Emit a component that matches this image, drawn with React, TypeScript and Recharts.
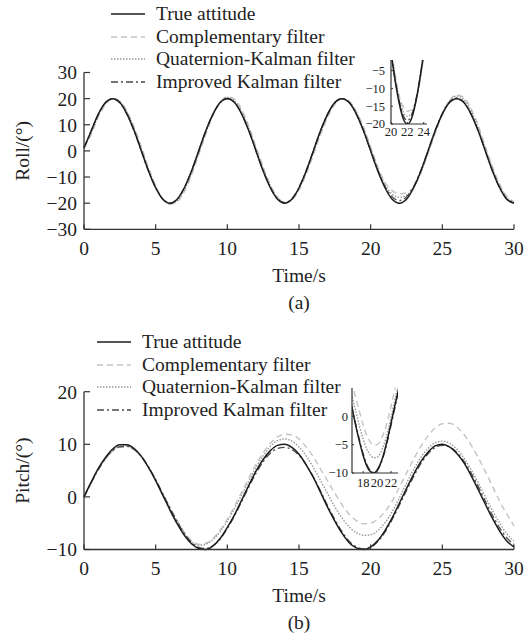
import { LineChart, Line, XAxis, YAxis, Legend } from 'recharts'

const FONT = '"Liberation Serif", "Times New Roman", serif'
const INK = '#222'
const AXIS = '#333'

// time samples (s)
const TIME = [
  0, 0.5, 1, 1.5, 2, 2.5, 3, 3.5, 4, 4.5, 5, 5.5, 6, 6.5, 7, 7.5, 8, 8.5, 9, 9.5,
  10, 10.5, 11, 11.5, 12, 12.5, 13, 13.5, 14, 14.5, 15, 15.5, 16, 16.5, 17, 17.5, 18, 18.5, 19, 19.5,
  20, 20.5, 21, 21.5, 22, 22.5, 23, 23.5, 24, 24.5, 25, 25.5, 26, 26.5, 27, 27.5, 28, 28.5, 29, 29.5, 30,
]

// roll (deg)
const ROLL_TRUE = [
  1.0, 7.7, 14.1, 18.5, 20.0, 18.5, 14.1, 7.7, 0.0,
  -7.7, -14.1, -18.5, -20.0, -18.5, -14.1, -7.7, 0.0,
  7.7, 14.1, 18.5, 20.0, 18.5, 14.1, 7.7, 0.0,
  -7.7, -14.1, -18.5, -20.0, -18.5, -14.1, -7.7, 0.0,
  7.7, 14.1, 18.5, 20.0, 18.5, 14.1, 7.7, 0.0,
  -7.7, -14.1, -18.5, -20.0, -18.5, -14.1, -7.7, 0.0,
  7.7, 14.1, 18.5, 20.0, 18.5, 14.1, 7.7, 0.0,
  -7.7, -14.1, -18.5, -20.0,
]
const ROLL_COMP = [
  1.5, 6.2, 13.0, 17.8, 19.9, 19.0, 15.2, 9.1, 1.6,
  -6.3, -13.3, -18.3, -20.4, -19.5, -15.6, -9.3, -1.6,
  6.4, 13.5, 18.5, 20.7, 19.8, 15.8, 9.4, 1.6,
  -6.1, -12.9, -17.6, -19.7, -18.8, -15.0, -9.0, -1.5,
  6.2, 13.0, 17.8, 19.9, 19.0, 15.2, 9.1, 1.6,
  -6.0, -12.0, -15.2, -16.4, -16.0, -13.8, -8.4, -1.0,
  6.6, 14.0, 19.2, 21.4, 20.4, 16.3, 9.8, 1.7,
  -6.0, -12.7, -17.4, -19.4,
]
const ROLL_QUAT = [
  1.4, 6.9, 13.6, 18.2, 20.0, 18.8, 14.7, 8.4, 0.8,
  -7.0, -13.8, -18.4, -20.3, -19.0, -14.9, -8.5, -0.8,
  7.1, 13.9, 18.6, 20.5, 19.2, 15.0, 8.6, 0.8,
  -6.9, -13.4, -18.0, -19.8, -18.6, -14.5, -8.3, -0.8,
  6.9, 13.6, 18.2, 20.0, 18.8, 14.7, 8.4, 0.8,
  -6.7, -12.9, -16.6, -17.8, -17.0, -13.9, -8.3, -0.8,
  7.3, 14.3, 19.1, 21.0, 19.7, 15.4, 8.8, 0.8,
  -6.8, -13.3, -17.8, -19.6,
]
const ROLL_IMP = [
  1.3, 7.6, 14.0, 18.4, 19.9, 18.4, 14.0, 7.6, 0.0,
  -7.7, -14.1, -18.5, -20.0, -18.5, -14.1, -7.7, 0.0,
  7.7, 14.1, 18.5, 20.1, 18.6, 14.2, 7.7, 0.0,
  -7.6, -14.0, -18.3, -19.8, -18.3, -14.0, -7.6, 0.0,
  7.7, 14.1, 18.5, 20.0, 18.5, 14.1, 7.7, 0.0,
  -7.5, -13.6, -17.6, -19.0, -17.6, -13.6, -7.5, 0.0,
  7.8, 14.3, 18.7, 20.3, 18.7, 14.3, 7.8, 0.0,
  -7.7, -14.1, -18.5, -19.9,
]

// pitch (deg)
const PITCH_TRUE = [
  0.0, 2.8, 5.4, 7.5, 9.1, 9.9, 9.9, 9.2, 7.7, 5.6, 3.1,
  0.3, -2.5, -5.1, -7.3, -8.9, -9.8, -10.0, -9.3, -7.9, -5.8,
  -3.4, -0.6, 2.2, 4.9, 7.1, 8.8, 9.8, 10.0, 9.4, 8.1,
  6.1, 3.7, 0.9, -2.0, -4.6, -6.9, -8.7, -9.7, -10.0, -9.5,
  -8.3, -6.4, -4.0, -1.2, 1.6, 4.3, 6.7, 8.5, 9.7, 10.0,
  9.5, 8.3, 6.5, 4.1, 1.4, -1.4, -4.1, -6.5, -8.4, -9.5,
]
const PITCH_COMP = [
  0.0, 2.7, 5.2, 7.2, 8.7, 9.5, 9.6, 9.0, 7.6, 5.6, 3.2,
  0.6, -2.0, -4.5, -6.7, -8.3, -9.0, -8.8, -7.9, -6.3, -4.2,
  -1.8, 0.9, 3.6, 6.2, 8.4, 10.2, 11.4, 11.9, 11.8, 11.0,
  9.5, 7.6, 5.3, 3.0, 0.7, -1.5, -3.3, -4.5, -5.1, -5.0,
  -4.2, -2.8, -0.8, 1.8, 4.5, 7.2, 9.6, 11.6, 13.1, 13.9,
  14.0, 13.3, 11.9, 9.9, 7.5, 4.8, 2.0, -0.8, -3.3, -5.5,
]
const PITCH_QUAT = [
  0.0, 2.7, 5.3, 7.4, 8.9, 9.6, 9.7, 9.1, 7.7, 5.6, 3.2,
  0.5, -2.2, -4.7, -6.9, -8.5, -9.2, -9.0, -8.1, -6.6, -4.6,
  -2.2, 0.4, 3.0, 5.6, 7.8, 9.6, 10.7, 11.0, 10.6, 9.5,
  7.8, 5.6, 3.1, 0.6, -1.9, -4.0, -5.7, -6.8, -7.3, -7.2,
  -6.4, -4.9, -2.8, -0.2, 2.6, 5.2, 7.5, 9.2, 10.3, 10.6,
  10.2, 9.1, 7.4, 5.2, 2.7, 0.0, -2.6, -5.0, -7.0, -8.4,
]
const PITCH_IMP = [
  0.0, 2.7, 5.2, 7.3, 8.8, 9.5, 9.6, 9.0, 7.7, 5.7, 3.3,
  0.6, -2.1, -4.7, -7.0, -8.7, -9.6, -9.8, -9.3, -8.0, -6.0,
  -3.6, -0.9, 1.9, 4.5, 6.7, 8.3, 9.2, 9.4, 9.0, 7.9,
  6.1, 3.8, 1.1, -1.7, -4.3, -6.6, -8.4, -9.5, -9.9, -9.6,
  -8.5, -6.7, -4.3, -1.6, 1.2, 3.9, 6.3, 8.2, 9.4, 9.8,
  9.5, 8.5, 6.8, 4.6, 2.0, -0.8, -3.5, -5.9, -7.8, -9.0,
]

const X_TICKS = [0, 5, 10, 15, 20, 25, 30]
const ROLL_TICKS = [-30, -20, -10, 0, 10, 20, 30]
const PITCH_TICKS = [-10, 0, 10, 20]
const ROLL_INSET_X = [20, 22, 24]
const ROLL_INSET_Y = [-20, -15, -10, -5]
const PITCH_INSET_X = [18, 20, 22]
const PITCH_INSET_Y = [-10, -5, 0]

// legend order
const SERIES = [
  { key: 'truth', name: 'True attitude', color: '#1c1c1c', dash: undefined, width: 1.5 },
  { key: 'comp', name: 'Complementary filter', color: '#c4c4c4', dash: '6 4', width: 1.4 },
  { key: 'quat', name: 'Quaternion-Kalman filter', color: '#999999', dash: '1.5 1.5', width: 1.4 },
  { key: 'imp', name: 'Improved Kalman filter', color: '#4a4a4a', dash: '7 3 2 3', width: 1.3 },
]
// draw order: light curves below, true attitude on top
const DRAW = ['comp', 'quat', 'imp', 'truth'].map((k) => SERIES.find((s) => s.key === k)!)

const rollData = TIME.map((t, i) => ({
  t, truth: ROLL_TRUE[i], comp: ROLL_COMP[i], quat: ROLL_QUAT[i], imp: ROLL_IMP[i],
}))
const pitchData = TIME.map((t, i) => ({
  t, truth: PITCH_TRUE[i], comp: PITCH_COMP[i], quat: PITCH_QUAT[i], imp: PITCH_IMP[i],
}))

function fmt(v: number) {
  return v < 0 ? `\u2212${Math.abs(v)}` : `${v}`
}

function LegendBox() {
  return (
    <div style={{ fontFamily: FONT, fontSize: 19.5, color: INK }}>
      {SERIES.map((s) => (
        <div key={s.key} style={{ display: 'flex', alignItems: 'center', height: 22.6, whiteSpace: 'nowrap' }}>
          <svg width={34} height={10} style={{ marginRight: 11, flex: 'none' }}>
            <line x1={0} x2={34} y1={5} y2={5} stroke={s.color} strokeWidth={s.width} strokeDasharray={s.dash} />
          </svg>
          <span>{s.name}</span>
        </div>
      ))}
    </div>
  )
}

// eslint-disable-next-line @typescript-eslint/no-explicit-any
function XTitle({ viewBox, tag }: any) {
  const cx = viewBox.x + viewBox.width / 2
  return (
    <g fontFamily={FONT} fontSize={19.5} fill={INK}>
      <text x={cx} y={viewBox.y + 46} textAnchor="middle" dominantBaseline="central">Time/s</text>
      <text x={cx} y={viewBox.y + 73} textAnchor="middle" dominantBaseline="central">{tag}</text>
    </g>
  )
}

// eslint-disable-next-line @typescript-eslint/no-explicit-any
function YTitle({ viewBox, text }: any) {
  const cx = viewBox.x + viewBox.width - 61
  const cy = viewBox.y + viewBox.height / 2
  return (
    <text x={cx} y={cy} transform={`rotate(-90 ${cx} ${cy})`} textAnchor="middle" dominantBaseline="central"
      fontFamily={FONT} fontSize={19.5} fill={INK}>
      {text}
    </text>
  )
}

type PanelProps = {
  data: typeof rollData
  height: number
  plotTop: number
  plotBottom: number
  yDomain: [number, number]
  yTicks: number[]
  yTitle: string
  tag: string
  legendLeft: number
  legendTop: number
}

function Panel({ data, height, plotTop, plotBottom, yDomain, yTicks, yTitle, tag, legendLeft, legendTop }: PanelProps) {
  return (
    <LineChart width={532} height={height} data={data}
      margin={{ top: plotTop, right: 18, bottom: height - plotBottom - 60, left: 24 }}>
      <XAxis dataKey="t" type="number" domain={[0, 30]} ticks={X_TICKS} interval={0} tickFormatter={fmt} height={60}
        axisLine={{ stroke: AXIS, strokeWidth: 1.3 }} tickLine={{ stroke: AXIS, strokeWidth: 1.2 }}
        tickSize={-5} tickMargin={17} tick={{ fill: INK, fontSize: 19.5, fontFamily: FONT }}
        label={<XTitle tag={tag} />} />
      <YAxis type="number" domain={yDomain} ticks={yTicks} interval={0} tickFormatter={fmt} width={60}
        axisLine={{ stroke: AXIS, strokeWidth: 1.3 }} tickLine={{ stroke: AXIS, strokeWidth: 1.2 }}
        tickSize={-6} tickMargin={13} tick={{ fill: INK, fontSize: 19.5, fontFamily: FONT }}
        label={<YTitle text={yTitle} />} />
      <Legend layout="horizontal" verticalAlign="middle" align="center" content={() => <LegendBox />}
        wrapperStyle={{ left: legendLeft, top: legendTop, width: 330, height: 92 }} />
      {DRAW.map((s) => (
        <Line key={s.key} type="monotone" dataKey={s.key} name={s.name} stroke={s.color}
          strokeWidth={s.width} strokeDasharray={s.dash} dot={false} activeDot={false}
          isAnimationActive={false} />
      ))}
    </LineChart>
  )
}

type InsetProps = {
  data: typeof rollData
  width: number
  height: number
  margin: { top: number; right: number; bottom: number; left: number }
  xDomain: [number, number]
  xTicks: number[]
  yDomain: [number, number]
  yTicks: number[]
  xTickMargin: number
  yTickMargin: number
}

function Inset({ data, width, height, margin, xDomain, xTicks, yDomain, yTicks, xTickMargin, yTickMargin }: InsetProps) {
  return (
    <LineChart width={width} height={height} data={data} margin={margin}>
      <XAxis dataKey="t" type="number" domain={xDomain} ticks={xTicks} interval={0} allowDataOverflow height={20}
        axisLine={{ stroke: AXIS, strokeWidth: 1.2 }} tickLine={{ stroke: AXIS }} tickSize={-2}
        tickMargin={xTickMargin} tick={{ fill: INK, fontSize: 12.5, fontFamily: FONT }} />
      <YAxis type="number" domain={yDomain} ticks={yTicks} interval={0} allowDataOverflow width={50} tickFormatter={fmt}
        axisLine={{ stroke: AXIS, strokeWidth: 1.2 }} tickLine={{ stroke: AXIS }} tickSize={-2}
        tickMargin={yTickMargin} tick={{ fill: INK, fontSize: 12.5, fontFamily: FONT }} />
      {DRAW.map((s) => (
        <Line key={s.key} type="monotone" dataKey={s.key} stroke={s.color}
          strokeWidth={s.width} strokeDasharray={s.dash} dot={false} activeDot={false}
          isAnimationActive={false} />
      ))}
    </LineChart>
  )
}

export default function App() {
  return (
    <div style={{ position: 'absolute', left: 0, top: 0, width: 532, height: 633, background: '#fff', overflow: 'hidden' }}>
      <div style={{ position: 'absolute', left: 0, top: 0 }}>
        <Panel data={rollData} height={320} plotTop={72.5} plotBottom={229.3} yDomain={[-30, 30]}
          yTicks={ROLL_TICKS} yTitle="Roll/(°)" tag="(a)" legendLeft={111} legendTop={3} />
      </div>
      <div style={{ position: 'absolute', left: 0, top: 320 }}>
        <Panel data={pitchData} height={313} plotTop={71.7} plotBottom={229.5} yDomain={[-10, 20]}
          yTicks={PITCH_TICKS} yTitle="Pitch/(°)" tag="(b)" legendLeft={97} legendTop={11} />
      </div>
      <div style={{ position: 'absolute', left: 330, top: 45 }}>
        <Inset data={rollData} width={110} height={100} margin={{ top: 15, right: 13, bottom: 1, left: 11 }}
          xDomain={[20, 24.4]} xTicks={ROLL_INSET_X} yDomain={[-20, -2]} yTicks={ROLL_INSET_Y}
          xTickMargin={5} yTickMargin={8} />
      </div>
      <div style={{ position: 'absolute', left: 290, top: 370 }}>
        <Inset data={pitchData} width={130} height={130} margin={{ top: 18, right: 22, bottom: 7, left: 12 }}
          xDomain={[16.4, 23]} xTicks={PITCH_INSET_X} yDomain={[-10, 5]} yTicks={PITCH_INSET_Y}
          xTickMargin={7} yTickMargin={6} />
      </div>
    </div>
  )
}
